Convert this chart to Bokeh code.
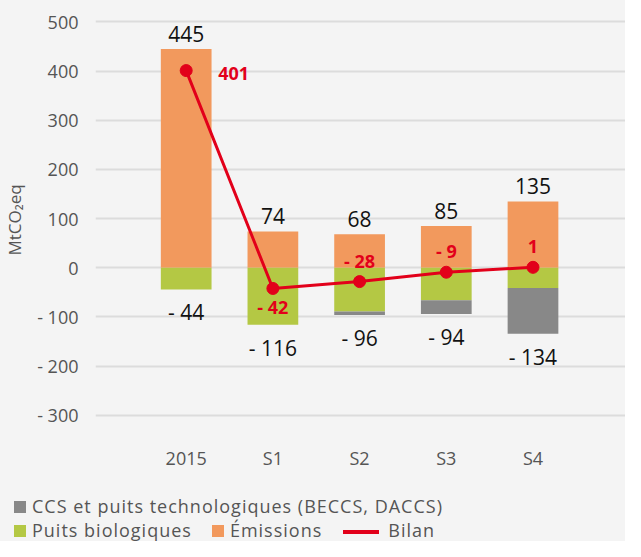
from bokeh.plotting import figure
from bokeh.layouts import column
from bokeh.models import Range1d, FixedTicker, ColumnDataSource, Div
from bokeh.core.properties import value
from bokeh.embed import file_html
from bokeh.resources import INLINE

categories = ["2015", "S1", "S2", "S3", "S4"]
emissions = [445, 74, 68, 85, 135]
puits_bio = [-44, -116, -89, -66, -41]
ccs = [0, 0, -7, -28, -93]
bilan = [401, -42, -28, -9, 1]
total_negative = [-44, -116, -96, -94, -134]
y_ticks = [-300, -200, -100, 0, 100, 200, 300, 400, 500]
y_tick_labels = ["- 300", "- 200", "- 100", "0", "100", "200", "300", "400", "500"]
legend_labels = ["CCS et puits technologiques (BECCS, DACCS)",
                 "Puits biologiques", "Émissions", "Bilan"]

FONT = "Open Sans"
BG = "#f4f4f4"
ORANGE = "#f2995d"
GREEN = "#b4c844"
GREY = "#888888"
RED = "#e2001a"
TXT = "#555555"

W = 625
H_MAIN = 486
H_LEG = 55


def fmt(v):
    return f"- {abs(v)}" if v < 0 else str(v)


xs = list(range(len(categories)))
ccs_bottom = [b + c for b, c in zip(puits_bio, ccs)]

src = ColumnDataSource(dict(
    x=xs, emis=emissions, bio=puits_bio, zero=[0] * len(xs),
    ccs_top=puits_bio, ccs_bottom=ccs_bottom, bilan=bilan,
    neg=total_negative,
    emis_lbl=[fmt(v) for v in emissions],
    neg_lbl=[fmt(v) for v in total_negative],
))

p = figure(width=W, height=H_MAIN, output_backend="svg", toolbar_location=None,
           x_range=Range1d(-1.046, 5.067), y_range=Range1d(-345, 539.4),
           min_border_left=95, min_border_right=0, min_border_top=2,
           min_border_bottom=49)
p.background_fill_color = BG
p.border_fill_color = BG
p.outline_line_color = None

BW = 0.585
p.vbar(x="x", top="emis", bottom="zero", width=BW, source=src,
       fill_color=ORANGE, line_color=None)
p.vbar(x="x", top="zero", bottom="bio", width=BW, source=src,
       fill_color=GREEN, line_color=None)
p.vbar(x="x", top="ccs_top", bottom="ccs_bottom", width=BW, source=src,
       fill_color=GREY, line_color=None)
p.line(x="x", y="bilan", source=src, line_color=RED, line_width=3)
p.scatter(x="x", y="bilan", source=src, size=12, fill_color=RED, line_color=RED)

# value labels
p.text(x="x", y="emis", text="emis_lbl", source=src, text_align="center",
       text_baseline="bottom", y_offset=-7, text_font=value(FONT),
       text_font_size="21px", text_color="#111111")
p.text(x="x", y="neg", text="neg_lbl", source=src, text_align="center",
       text_baseline="top", y_offset=9, text_font=value(FONT),
       text_font_size="21px", text_color="#111111")


def sub(idx):
    return ColumnDataSource(dict(x=[xs[i] for i in idx],
                                 y=[bilan[i] for i in idx],
                                 t=[fmt(bilan[i]) for i in idx]))


common = dict(text_font=value(FONT), text_font_size="18px",
              text_font_style="bold", text_color=RED)
p.text(x="x", y="y", text="t", source=sub([0]), text_align="left",
       text_baseline="middle", x_offset=32, y_offset=3, **common)
p.text(x="x", y="y", text="t", source=sub([1]), text_align="center",
       text_baseline="middle", y_offset=19, **common)
p.text(x="x", y="y", text="t", source=sub([2, 3, 4]), text_align="center",
       text_baseline="middle", y_offset=-21, **common)

# axes
p.xgrid.grid_line_color = None
p.ygrid.grid_line_color = "#dcdcdc"
p.ygrid.grid_line_width = 2
p.yaxis.ticker = FixedTicker(ticks=y_ticks)
p.yaxis.major_label_overrides = {t: l for t, l in zip(y_ticks, y_tick_labels)}
p.xaxis.ticker = FixedTicker(ticks=xs)
p.xaxis.major_label_overrides = {i: c for i, c in zip(xs, categories)}
p.axis.axis_line_color = None
p.axis.major_tick_line_color = None
p.axis.minor_tick_line_color = None
p.axis.major_label_text_font = FONT
p.axis.major_label_text_font_size = "18px"
p.axis.major_label_text_color = TXT
p.yaxis.major_label_standoff = 11
p.xaxis.major_label_standoff = 2
p.yaxis.axis_label = "MtCO₂eq"
p.yaxis.axis_label_text_font = FONT
p.yaxis.axis_label_text_font_size = "17px"
p.yaxis.axis_label_text_font_style = "normal"
p.yaxis.axis_label_text_color = TXT
p.yaxis.axis_label_standoff = 8

# legend (HTML block below the chart)
sq = ("display:inline-block;width:12px;height:12px;background:{c};"
      "margin-right:6px;vertical-align:baseline;")
ln = ("display:inline-block;width:36px;height:4px;background:{c};"
      "margin-left:{m}px;margin-right:9px;vertical-align:middle;")
legend_html = (
    f'<div style="font-family:\'{FONT}\';font-size:18px;color:{TXT};'
    f'letter-spacing:1px;line-height:24px;padding:8px 0 0 14px;'
    f'white-space:nowrap;">'
    f'<div><span style="{sq.format(c=GREY)}"></span>{legend_labels[0]}</div>'
    f'<div><span style="{sq.format(c=GREEN)}"></span>{legend_labels[1]}'
    f'<span style="{sq.format(c=ORANGE)}margin-left:20px;"></span>{legend_labels[2]}'
    f'<span style="{ln.format(c=RED, m=21)}"></span>{legend_labels[3]}</div>'
    f'</div>'
)
leg = Div(text=legend_html, width=W, height=H_LEG,
          styles={"background-color": BG, "margin": "0", "padding": "0"})

layout = column(p, leg, spacing=0, styles={"background-color": BG})
open("out.html", "w").write(file_html(layout, INLINE))
